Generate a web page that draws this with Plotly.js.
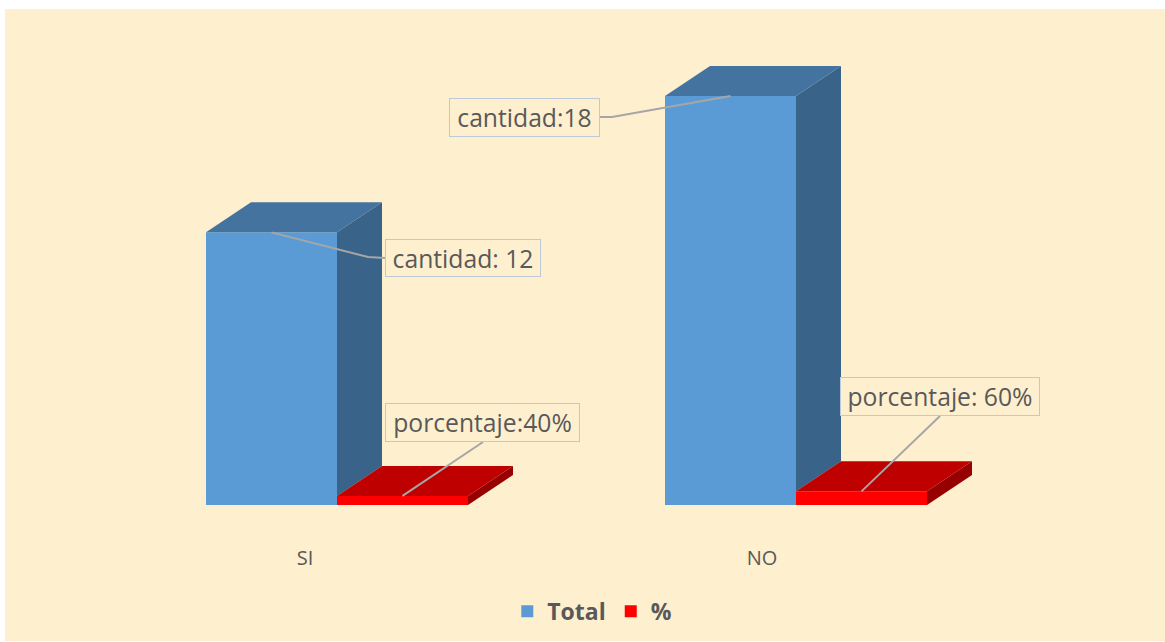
<!DOCTYPE html>
<html>
<head>
<meta charset="utf-8">
<script src="https://cdn.plot.ly/plotly-3.0.1.min.js"></script>
<style>
html,body{margin:0;padding:0;background:#fff;overflow:hidden}
#chart{position:absolute;left:5px;top:9px;width:1160px;height:632px}
</style>
</head>
<body>
<div id="chart"></div>
<script>
const categories = ["SI", "NO"];
const totalValues = [12, 18];
const percentValues = [0.4, 0.6];
const percentShare = [40, 60];
const seriesNames = ["Total", "%"];

// page geometry of the frame
const FL = 5, FT = 9, FW = 1160, FH = 632;
const baseY = 505, catA = 337, catStep = 459, pxPerUnit = 22.72;
const barPx = 131, depthXPx = 45, depthYPx = 30;

const dataX = px => (px - catA) / catStep;
const dataY = py => (baseY - py) / pxPerUnit;
const barW = barPx / catStep, dx = depthXPx / catStep, dy = depthYPx / pxPerUnit;
const xs = categories.map((_, i) => i);

// floors: height at which a side face starts (the neighbouring bar hides what is below)
function faces(values, startOffset, topCol, sideCol, floors) {
  const out = [];
  values.forEach((v, i) => {
    const x0 = i + startOffset, x1 = x0 + barW, f = floors ? floors[i] : 0;
    out.push({type:"scatter", mode:"lines", x:[x1, x1+dx, x1+dx, x1, x1], y:[f, f+dy, v+dy, v, f],
      fill:"toself", fillcolor:sideCol, line:{width:0}, showlegend:false, hoverinfo:"skip"});
    out.push({type:"scatter", mode:"lines", x:[x0, x0+dx, x1+dx, x1, x0], y:[v, v+dy, v+dy, v, v],
      fill:"toself", fillcolor:topCol, line:{width:0}, showlegend:false, hoverinfo:"skip"});
  });
  return out;
}

const traces = [
  {type:"bar", name:seriesNames[0], x:xs, y:totalValues, marker:{color:"#5B9BD5"}, hoverinfo:"x+y"},
  {type:"bar", name:seriesNames[1], x:xs, y:percentValues, marker:{color:"#FF0000"}, hoverinfo:"x+y"},
  ...faces(totalValues, -barW, "#44739F", "#3A6389", percentValues),
  ...faces(percentValues, 0, "#BE0000", "#970000")
];

function leader(points) {
  const path = points.map((p, i) => (i ? "L" : "M") + p[0] + "," + p[1]).join(" ");
  return {type:"path", xref:"x", yref:"y", path, line:{color:"#A6A6A6", width:2}, layer:"above"};
}
const elbow = (px, py) => [dataX(px), dataY(py)];

const shapes = [
  leader([[-barW/2, totalValues[0]], elbow(368,257), elbow(385,258)]),
  leader([[barW/2, percentValues[0]], elbow(483,442)]),
  leader([[1-barW/2, totalValues[1]], elbow(612,117), elbow(600,117)]),
  leader([[1+barW/2, percentValues[1]], elbow(940,416)])
];

function callout(text, left, top, right, bottom) {
  return {
    text, xref:"paper", yref:"paper", showarrow:false,
    x:((left + right)/2 - FL)/FW,
    y:1 - ((top + bottom)/2 - FT)/(baseY - FT),
    xanchor:"center", yanchor:"middle",
    width:right-left-2, height:bottom-top-2,
    align:"center", valign:"middle",
    bgcolor:"#FEEFCF", bordercolor:"#BCC9D6", borderwidth:1, borderpad:0,
    font:{family:"Open Sans, sans-serif", size:24.7, color:"#595959"}
  };
}

const annotations = [
  callout("cantidad: " + totalValues[0], 385, 239, 541, 277),
  callout("porcentaje:" + percentShare[0] + "%", 385, 403, 580, 442),
  callout("cantidad:" + totalValues[1], 447, 98, 598, 137),
  callout("porcentaje: " + percentShare[1] + "%", 840, 377, 1040, 416)
];
annotations[2].x = ((449 + 600)/2 - FL)/FW;

const layout = {
  width:FW, height:FH,
  paper_bgcolor:"#FEEFCF", plot_bgcolor:"rgba(0,0,0,0)",
  margin:{l:0, r:0, t:0, b:FT+FH-baseY, pad:0},
  barmode:"group", bargap:1-2*barW, bargroupgap:0,
  xaxis:{type:"linear", range:[dataX(FL), dataX(FL+FW)], tickmode:"array",
    tickvals:xs.map((v,i)=>i - (i?34:32)/catStep), ticktext:categories,
    ticks:"", ticklen:0, ticklabelstandoff:39, showgrid:false, zeroline:false, showline:false,
    tickfont:{family:"Open Sans, sans-serif", size:20, color:"#595959"}, fixedrange:true},
  yaxis:{range:[0, dataY(FT)], visible:false, showgrid:false, zeroline:false, fixedrange:true},
  legend:{orientation:"h", x:0.433, xanchor:"left", yref:"container", y:0.047, yanchor:"middle",
    font:{family:"Open Sans, sans-serif", size:23, color:"#595959", weight:700},
    bgcolor:"rgba(0,0,0,0)", itemclick:false, itemdoubleclick:false},
  shapes, annotations, showlegend:true
};

Plotly.newPlot("chart", traces, layout, {displayModeBar:false, responsive:false});
</script>
</body>
</html>
